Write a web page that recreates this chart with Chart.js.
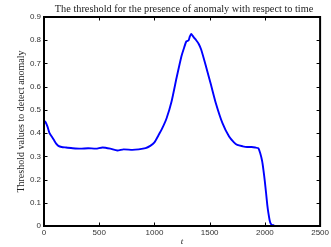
<!DOCTYPE html>
<html>
<head>
<meta charset="utf-8">
<script src="https://cdn.jsdelivr.net/npm/chart.js@4.4.0/dist/chart.umd.min.js"></script>
<style>
  html, body { margin: 0; padding: 0; background: #fff; }
  #wrap { width: 331px; height: 247px; }
</style>
</head>
<body>
<div id="wrap"><canvas id="grafico" width="331" height="247"></canvas></div>
<script>
// valores
const tiempos = [0, 10, 30, 50, 70, 90, 110, 130, 160, 200, 260, 330, 400, 470, 530, 600, 664, 720, 800, 857,
    920, 962, 1000, 1036, 1070, 1110, 1155, 1200, 1244, 1270, 1289, 1310, 1320, 1334, 1345, 1360, 1378, 1400, 1423,
    1467, 1512, 1556, 1616, 1676, 1720, 1750, 1800, 1839, 1880, 1913, 1940, 1958, 1975, 1987, 2000, 2011, 2022,
    2032, 2043, 2053, 2065, 2077, 2085];
const umbrales = [0.44, 0.45, 0.43, 0.40, 0.385, 0.37, 0.355, 0.345, 0.34, 0.338, 0.335, 0.333, 0.335, 0.333, 0.338,
    0.333, 0.325, 0.33, 0.328, 0.33, 0.335, 0.345, 0.36, 0.39, 0.42, 0.464, 0.536, 0.637, 0.73, 0.77, 0.795, 0.80,
    0.815, 0.827, 0.82, 0.81, 0.80, 0.785, 0.76, 0.687, 0.608, 0.529, 0.443, 0.385, 0.36, 0.349, 0.343, 0.34, 0.34,
    0.338, 0.335, 0.313, 0.28, 0.241, 0.19, 0.141, 0.09, 0.055, 0.025, 0.01, 0.004, 0.003, 0.003];
const ticksX = [0, 500, 1000, 1500, 2000, 2500];
const ticksY = [0, 0.1, 0.2, 0.3, 0.4, 0.5, 0.6, 0.7, 0.8, 0.9];

const titulo = 'The threshold for the presence of anomaly with respect to time';
const tituloY = 'Threshold values to detect anomaly';
const tituloX = 't';

// marco negro, marcas hacia dentro (estilo matlab) y titulo centrado sobre el area
const marcoPlugin = {
    id: 'marco',
    afterDraw(chart) {
        const { ctx, chartArea: a, scales } = chart;
        ctx.save();
        ctx.strokeStyle = '#000';
        ctx.lineWidth = 1;
        const L = 3.5;
        ctx.beginPath();
        ticksX.forEach(v => {
            const px = Math.round(scales.x.getPixelForValue(v)) + 0.5;
            ctx.moveTo(px, a.bottom); ctx.lineTo(px, a.bottom - L);
            ctx.moveTo(px, a.top); ctx.lineTo(px, a.top + L);
        });
        ticksY.forEach(v => {
            const py = Math.round(scales.y.getPixelForValue(v)) + 0.5;
            ctx.moveTo(a.left, py); ctx.lineTo(a.left + L, py);
            ctx.moveTo(a.right, py); ctx.lineTo(a.right - L, py);
        });
        ctx.stroke();
        ctx.lineWidth = 2;
        ctx.strokeRect(a.left, a.top, a.right - a.left, a.bottom - a.top);

        ctx.fillStyle = '#222';
        ctx.font = '10.3px "Liberation Serif"';
        ctx.textAlign = 'center';
        ctx.textBaseline = 'alphabetic';
        ctx.fillText(titulo, (a.left + a.right) / 2 + 2, a.top - 5);
        ctx.restore();
    }
};

const ctx = document.getElementById('grafico').getContext('2d');
new Chart(ctx, {
    type: 'line',
    data: {
        datasets: [{
            data: tiempos.map((t, i) => ({ x: t, y: umbrales[i] })),
            borderColor: '#0000ff',
            borderWidth: 1.9,
            pointRadius: 0,
            tension: 0.2,
            fill: false
        }]
    },
    options: {
        responsive: false,
        animation: false,
        layout: { padding: { top: 17, right: 8, left: 0, bottom: 0 } },
        plugins: {
            legend: { display: false },
            tooltip: { enabled: false },
            title: { display: false }
        },
        scales: {
            x: {
                type: 'linear',
                min: 0, max: 2500,
                afterBuildTicks: s => { s.ticks = ticksX.map(v => ({ value: v })); },
                afterFit: s => { s.height = 21; },
                grid: { display: false, drawTicks: false },
                border: { display: false },
                ticks: {
                    color: '#333',
                    font: { family: 'Liberation Sans', size: 8 },
                    padding: 2,
                    maxRotation: 0,
                    callback: v => String(v)
                },
                title: {
                    display: true,
                    text: tituloX,
                    color: '#222',
                    font: { family: 'Liberation Serif', size: 9, style: 'italic' },
                    padding: { top: 0, bottom: 0 }
                }
            },
            y: {
                min: 0, max: 0.9,
                afterBuildTicks: s => { s.ticks = ticksY.map(v => ({ value: v })); },
                afterFit: s => { s.width = 44; },
                grid: { display: false, drawTicks: false },
                border: { display: false },
                ticks: {
                    color: '#333',
                    font: { family: 'Liberation Sans', size: 8 },
                    padding: 3,
                    callback: v => (v === 0 ? '0' : v.toFixed(1))
                },
                title: {
                    display: true,
                    text: tituloY,
                    color: '#222',
                    font: { family: 'Liberation Serif', size: 10 },
                    padding: { top: 15, bottom: 0 }
                }
            }
        }
    },
    plugins: [marcoPlugin]
});
</script>
</body>
</html>
